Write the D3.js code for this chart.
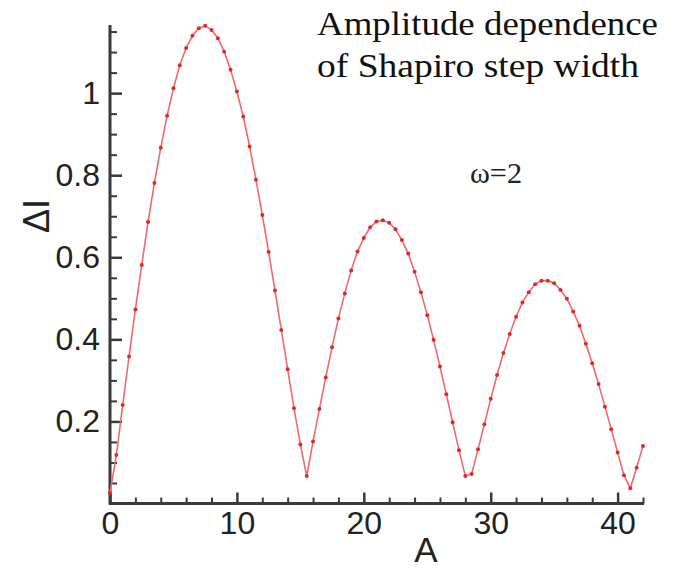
<!DOCTYPE html>
<html>
<head>
<meta charset="utf-8">
<script src="https://cdn.jsdelivr.net/npm/d3@7"></script>
<style>
  body { margin: 0; background: #fff; }
  svg { display: block; }
  .tick text { font-family: "Liberation Sans", Arial, sans-serif; fill: #222; }
</style>
</head>
<body>
<svg id="chart" width="684" height="568"></svg>
<script>
// amplitude A (x) and step width ΔI (y)
const amplitude = [
  0, 0.5, 1, 1.5, 2, 2.5, 3, 3.5, 4, 4.5, 5, 5.5, 6, 6.5, 7, 7.5, 8, 8.5, 9, 9.5,
  10, 10.5, 11, 11.5, 12, 12.5, 13, 13.5, 14, 14.5, 15, 15.5, 16, 16.5, 17, 17.5,
  18, 18.5, 19, 19.5, 20, 20.5, 21, 21.5, 22, 22.5, 23, 23.5, 24, 24.5, 25, 25.5,
  26, 26.5, 27, 27.5, 28, 28.5, 29, 29.5, 30, 30.5, 31, 31.5, 32, 32.5, 33, 33.5,
  34, 34.5, 35, 35.5, 36, 36.5, 37, 37.5, 38, 38.5, 39, 39.5, 40, 40.5, 41, 41.5, 42
];
const stepWidth = [
  0.025, 0.118, 0.240, 0.358, 0.473, 0.581, 0.686, 0.781, 0.867, 0.945, 1.012, 1.068,
  1.110, 1.140, 1.158, 1.164, 1.154, 1.134, 1.101, 1.057, 1.004, 0.943, 0.870, 0.789,
  0.703, 0.613, 0.519, 0.423, 0.327, 0.232, 0.144, 0.067, 0.151, 0.230, 0.307, 0.381,
  0.451, 0.512, 0.568, 0.614, 0.647, 0.673, 0.687, 0.690, 0.684, 0.668, 0.642, 0.609,
  0.565, 0.515, 0.459, 0.399, 0.334, 0.266, 0.198, 0.130, 0.067, 0.072, 0.132, 0.193,
  0.255, 0.313, 0.367, 0.413, 0.455, 0.490, 0.515, 0.534, 0.543, 0.543, 0.537, 0.520,
  0.499, 0.468, 0.433, 0.389, 0.342, 0.291, 0.236, 0.181, 0.124, 0.069, 0.037, 0.087, 0.140
];
const xMajor = [0, 10, 20, 30, 40];
const xMinor = [2, 4, 6, 8, 12, 14, 16, 18, 22, 24, 26, 28, 32, 34, 36, 38, 42];
const yMajor = [0.2, 0.4, 0.6, 0.8, 1];
const yMinor = [0.05, 0.1, 0.15, 0.25, 0.3, 0.35, 0.45, 0.5, 0.55, 0.65, 0.7, 0.75,
                0.85, 0.9, 0.95, 1.05, 1.1, 1.15];
const titleLines = ["Amplitude dependence", "of Shapiro step width"];

const data = amplitude.map((a, i) => ({a: a, v: stepWidth[i]}));

const svg = d3.select("#chart");
const x = d3.scaleLinear().domain([0, 42]).range([110, 643]);
const y = d3.scaleLinear().domain([0, 1.166]).range([503.5, 25]);
const axisColor = "#3a3a3a";

// minor ticks first, majors (with labels) on top
svg.append("g")
    .attr("transform", `translate(0,${y(0)})`)
    .call(d3.axisBottom(x).tickValues(xMinor).tickSize(-6).tickFormat(""))
    .call(g => g.select(".domain").remove())
    .call(g => g.selectAll("line").attr("stroke", axisColor).attr("stroke-width", 2));

svg.append("g")
    .attr("transform", `translate(${x(0)},0)`)
    .call(d3.axisLeft(y).tickValues(yMinor).tickSize(-7).tickFormat(""))
    .call(g => g.select(".domain").remove())
    .call(g => g.selectAll("line").attr("stroke", axisColor).attr("stroke-width", 2));

svg.append("g")
    .attr("transform", `translate(0,${y(0)})`)
    .call(d3.axisBottom(x).tickValues(xMajor).tickSize(-11).tickPadding(8).tickFormat(d3.format("d")))
    .call(g => g.select(".domain").remove())
    .call(g => g.selectAll("line").attr("stroke", axisColor).attr("stroke-width", 2.5))
    .call(g => g.selectAll("text").attr("font-size", 32));

svg.append("g")
    .attr("transform", `translate(${x(0)},0)`)
    .call(d3.axisLeft(y).tickValues(yMajor).tickSize(-12).tickPadding(10).tickFormat(d => d === 1 ? "1" : d3.format(".1f")(d)))
    .call(g => g.select(".domain").remove())
    .call(g => g.selectAll("line").attr("stroke", axisColor).attr("stroke-width", 2.5))
    .call(g => g.selectAll("text").attr("font-size", 32));

// axis lines
svg.append("line")
    .attr("x1", x(0)).attr("x2", x(0))
    .attr("y1", 25).attr("y2", y(0) + 1)
    .attr("stroke", axisColor).attr("stroke-width", 3);
svg.append("line")
    .attr("x1", x(0) - 1).attr("x2", x(42) + 1)
    .attr("y1", y(0)).attr("y2", y(0))
    .attr("stroke", axisColor).attr("stroke-width", 3);

// curve
const line = d3.line().x(d => x(d.a)).y(d => y(d.v));
svg.append("path")
    .datum(data)
    .attr("fill", "none")
    .attr("stroke", "#ee6b6b")
    .attr("stroke-width", 1.6)
    .attr("d", line);

svg.selectAll("circle.pt")
    .data(data)
    .enter()
    .append("circle")
    .attr("class", "pt")
    .attr("cx", d => x(d.a))
    .attr("cy", d => y(d.v))
    .attr("r", 2)
    .attr("fill", "#dd2a2a");

// axis titles
svg.append("text")
    .attr("x", 426).attr("y", 562)
    .attr("text-anchor", "middle")
    .attr("font-family", "Liberation Sans, Arial, sans-serif")
    .attr("font-size", 35)
    .attr("fill", "#222")
    .text("A");

svg.append("text")
    .attr("transform", "translate(49,216) rotate(-90)")
    .attr("text-anchor", "middle")
    .attr("font-family", "Liberation Sans, Arial, sans-serif")
    .attr("font-size", 36)
    .attr("fill", "#222")
    .text("ΔI");

// annotations
svg.selectAll("text.title")
    .data(titleLines)
    .enter()
    .append("text")
    .attr("class", "title")
    .attr("x", 317)
    .attr("y", (d, i) => 35 + i * 42)
    .attr("font-family", "Liberation Serif, 'Times New Roman', serif")
    .attr("font-size", 34)
    .attr("textLength", (d, i) => i === 0 ? 341 : 322)
    .attr("lengthAdjust", "spacingAndGlyphs")
    .attr("fill", "#111")
    .text(d => d);

svg.append("text")
    .attr("x", 470).attr("y", 183)
    .attr("font-family", "Liberation Serif, 'Times New Roman', serif")
    .attr("font-size", 29)
    .attr("textLength", 52)
    .attr("lengthAdjust", "spacingAndGlyphs")
    .attr("fill", "#222")
    .text("ω=2");
</script>
</body>
</html>
